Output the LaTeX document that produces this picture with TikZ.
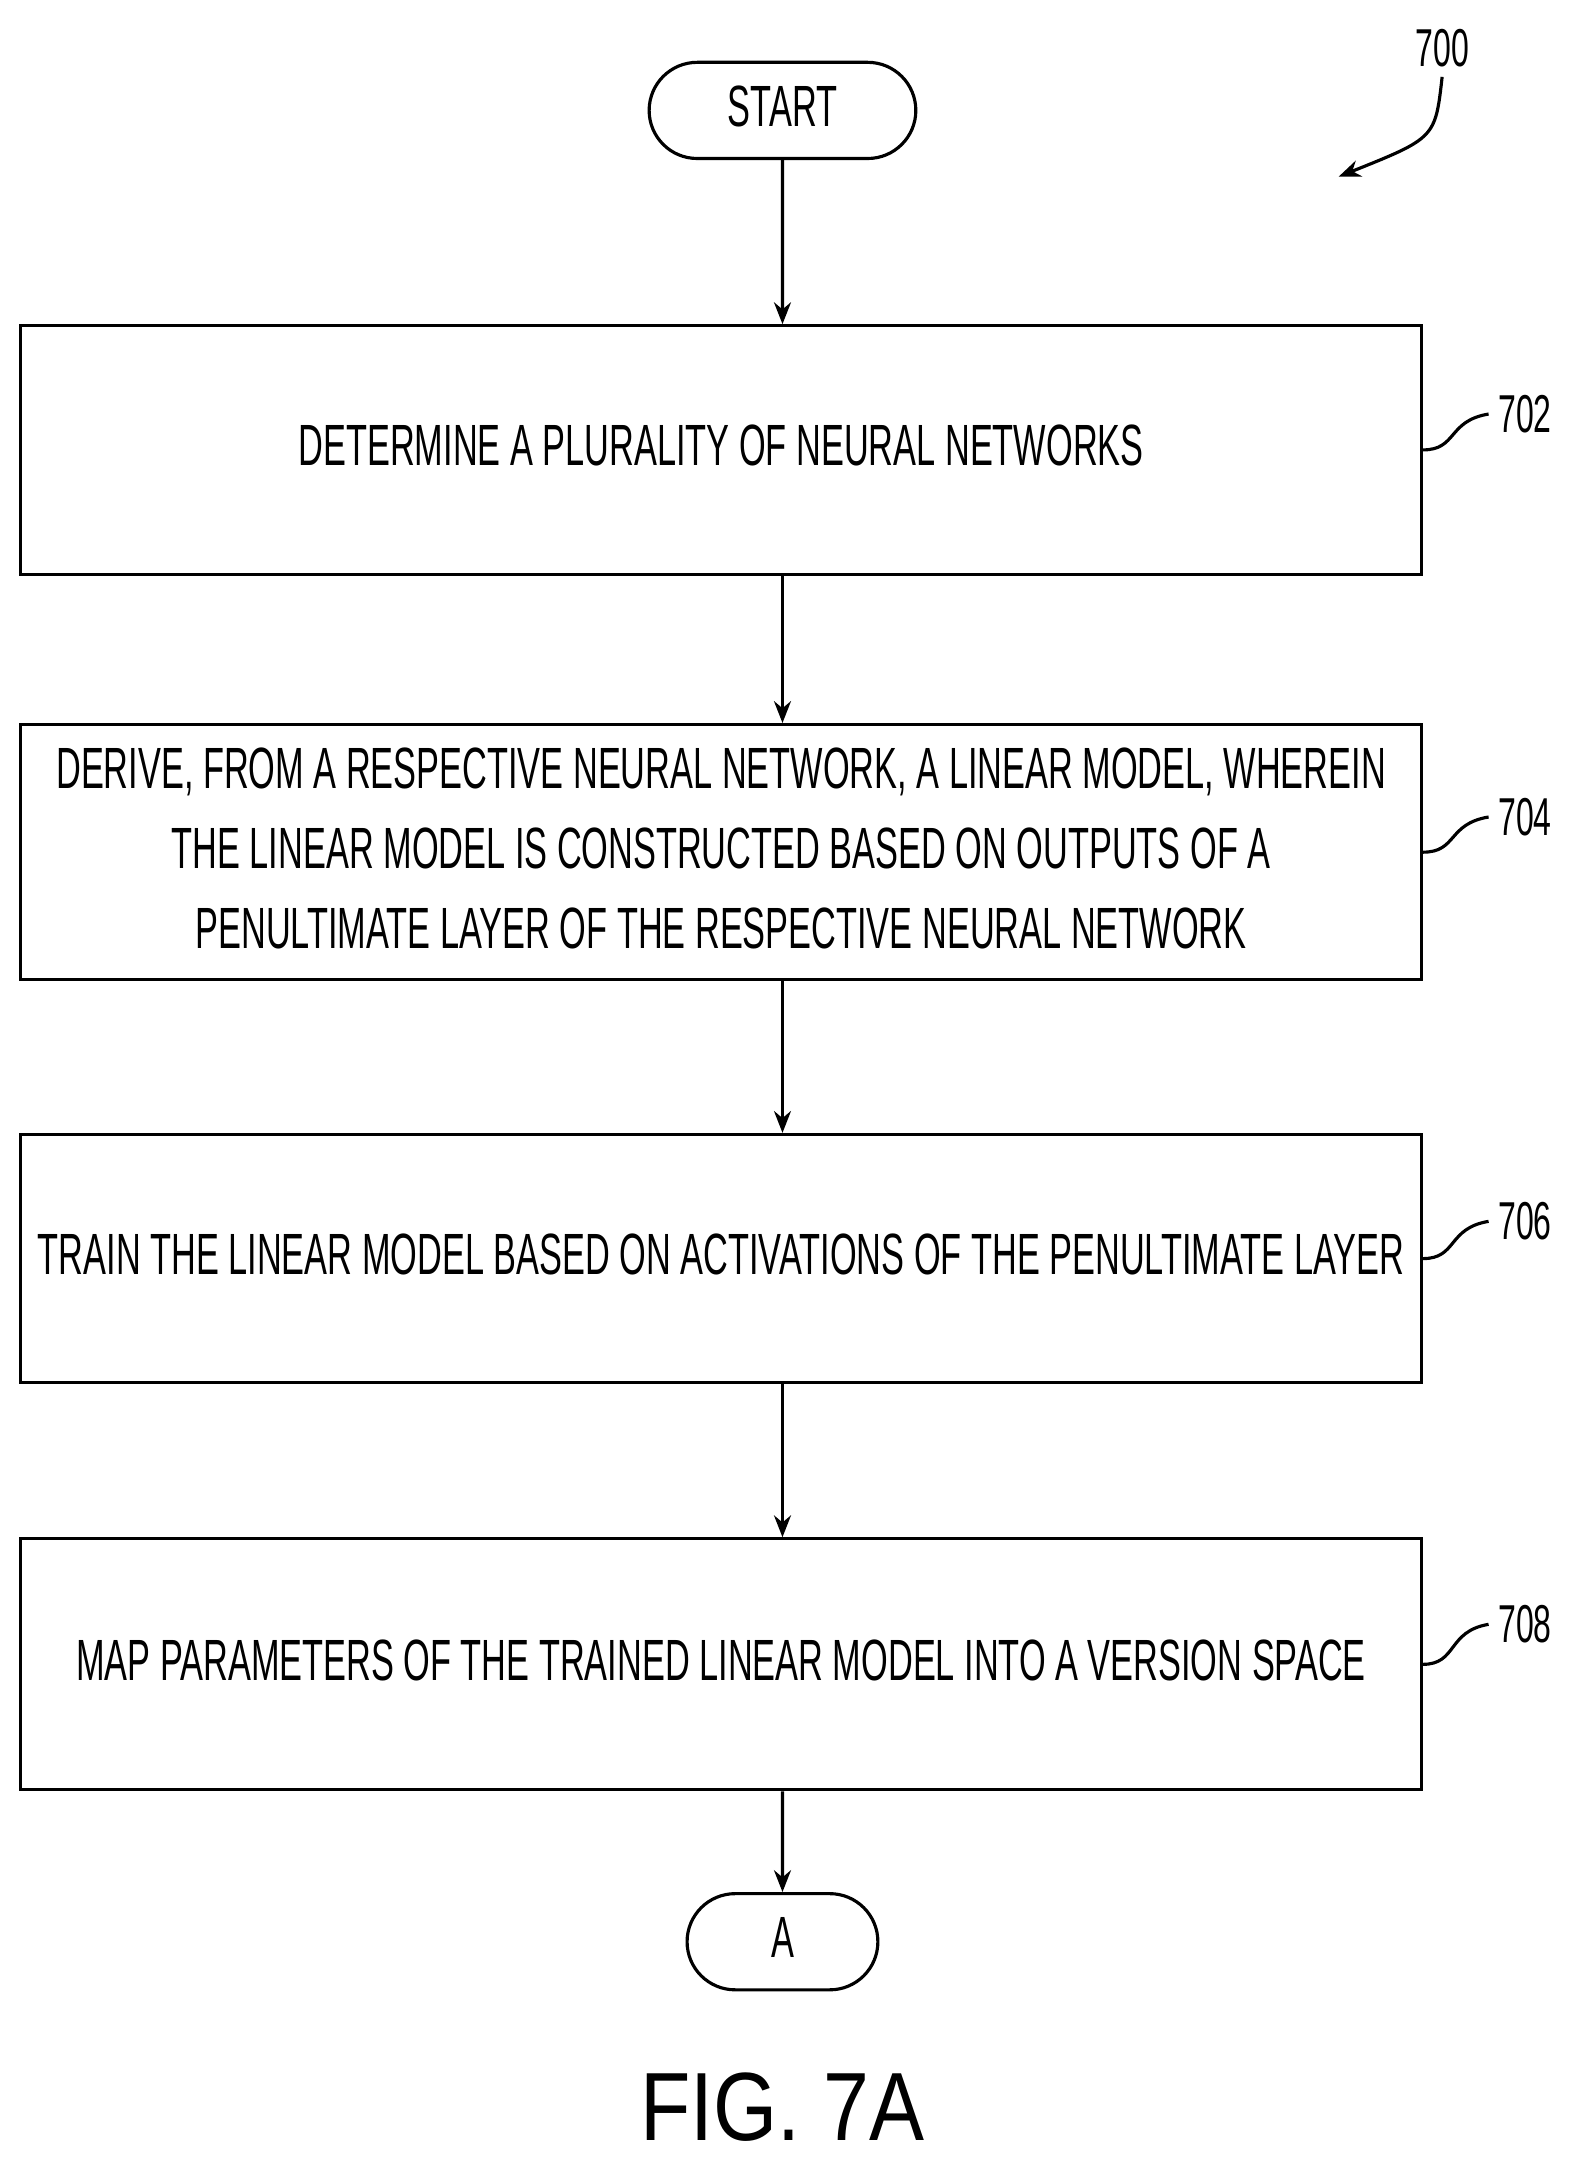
\documentclass[tikz,border=0pt]{standalone}
\usepackage{fontspec}
\setmainfont{Liberation Sans}
\usetikzlibrary{arrows.meta,positioning,shapes.misc}
\newcommand\cnd[1]{\scalebox{0.59}[1]{\begin{tabular}{c}#1\end{tabular}}}
\begin{document}
\begin{tikzpicture}[x=0.02cm,y=-0.02cm,>={Stealth[length=9pt,width=7pt]},
    line width=1.3pt,font=\fontsize{24}{33}\selectfont,
    box/.style={draw,minimum width=20.3cm,minimum height=3.6cm,inner sep=0pt},
    term/.style={draw,rounded rectangle,minimum height=1.2cm},
    ref/.style={font=\fontsize{22}{26}\selectfont}]
  \useasboundingbox (0,0) rectangle (1140,1563);
  \node[term,minimum width=4.1cm] (start) at (567,80) {\cnd{START}};
  \node[box] (b702) at (522.5,326) {\cnd{DETERMINE A PLURALITY OF NEURAL NETWORKS}};
  \node[box,minimum height=3.7cm] (b704) at (522.5,617.5) {\cnd{DERIVE, FROM A RESPECTIVE NEURAL NETWORK, A LINEAR MODEL, WHEREIN\\
    THE LINEAR MODEL IS CONSTRUCTED BASED ON OUTPUTS OF A\\
    PENULTIMATE LAYER OF THE RESPECTIVE NEURAL NETWORK}};
  \node[box] (b706) at (522.5,912) {\cnd{TRAIN THE LINEAR MODEL BASED ON ACTIVATIONS OF THE PENULTIMATE LAYER}};
  \node[box,minimum height=3.64cm] (b708) at (522.5,1206) {\cnd{MAP PARAMETERS OF THE TRAINED LINEAR MODEL INTO A VERSION SPACE}};
  \node[term,minimum width=3cm] (endA) at (567,1407) {\cnd{A}};
  \node[font=\fontsize{40}{44}\selectfont] (fig) at (567,1527) {\scalebox{0.85}[1]{FIG. 7A}};
  % reference numerals
  \node[ref] (n700) at (1045,35) {\scalebox{0.6}[1]{700}};
  \node[ref] (n702) at (1105,300) {\scalebox{0.6}[1]{702}};
  \node[ref] (n704) at (1105,592) {\scalebox{0.6}[1]{704}};
  \node[ref] (n706) at (1105,885) {\scalebox{0.6}[1]{706}};
  \node[ref] (n708) at (1105,1177) {\scalebox{0.6}[1]{708}};
  \draw[->] (n700.south) .. controls (1040,100) .. (970,128);
  \foreach \b in {702,704,706,708}
    \draw (b\b.east) .. controls +(25,0) and +(-30,5) .. (n\b.west);
  % flow
  \draw[->] (start) -- (b702.north -| start.south);
  \draw[->] (b702.south -| start.south) -- (b704.north -| start.south);
  \draw[->] (b704.south -| start.south) -- (b706.north -| start.south);
  \draw[->] (b706.south -| start.south) -- (b708.north -| start.south);
  \draw[->] (b708.south -| start.south) -- (endA);
\end{tikzpicture}
\end{document}
